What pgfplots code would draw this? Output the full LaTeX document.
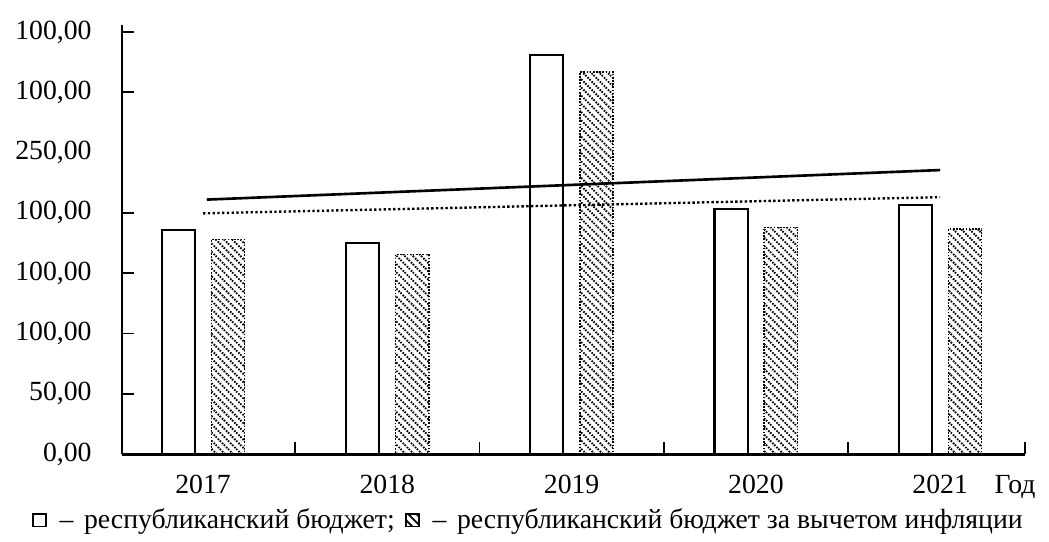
\documentclass[border=0pt]{standalone}
\usepackage{fontspec}
\setmainfont{Liberation Serif}
\usepackage{pgfplots}
\pgfplotsset{compat=1.18}
\usetikzlibrary{patterns.meta}

% рисунок: бюджет по годам, столбцы и линии тренда
\tikzset{
  hatchbar/.style={
    draw=black, line width=0.6pt, dash pattern=on 0.6pt off 0.6pt,
    pattern={Lines[angle=-45, distance=2.2pt, line width=0.7pt]}},
  whitebar/.style={draw=black, fill=white, line width=0.8pt},
}

\begin{document}
\begin{tikzpicture}
\begin{axis}[
    scale only axis,
    width=342pt, height=162.5pt,
    xmin=-0.44, xmax=4.46,
    ymin=0, ymax=355.7,
    axis x line*=bottom,
    axis y line*=left,
    axis line style={line width=1.1pt},
    xtick={0,1,2,3,4},
    xticklabels={2017,2018,2019,2020,2021},
    x tick style={draw=none},
    extra x ticks={0.5,1.5,2.5,3.5,4.46},
    extra x tick labels={},
    extra x tick style={x tick style={draw=black, line width=0.6pt}, major tick length=4.5pt, tick align=inside},
    ytick={0,50,100,150,200,250,300,350},
    yticklabels={{0,00},{50,00},{100,00},{100,00},{100,00},{250,00},{100,00},{100,00}},
    y tick style={draw=none},
    extra y ticks={0,50,100,150,200,300,350},
    extra y tick labels={},
    extra y tick style={y tick style={draw=black, line width=0.6pt}, major tick length=4.5pt, tick align=inside},
    tick label style={font=\fontsize{10.5pt}{12pt}\selectfont},
    /pgf/number format/assume math mode=true,
    yticklabel style={xshift=-8pt},
    xticklabel style={yshift=-4.5pt},
    xlabel={Год},
    xlabel style={at={(rel axis cs:1,0)}, anchor=north east, xshift=7.5pt, yshift=-4.5pt, font=\fontsize{10.5pt}{12pt}\selectfont},
    legend columns=2,
    legend style={draw=none, at={(0.452,-0.154)}, anchor=center,
      font=\fontsize{10.5pt}{12pt}\selectfont,
      /tikz/every even column/.append style={column sep=2pt}},
    legend image code/.code={\draw[#1, solid, line width=0.6pt] (0pt,-2.4pt) rectangle (4.8pt,2.4pt);},
    clip=false,
]
\addplot[ybar, whitebar, bar width=0.18, bar shift=-0.135] coordinates {
    (0,185.7) (1,175.0) (2,331.0) (3,203.0) (4,206.5)
};
\addlegendentry{\kern3pt–\kern4pt республиканский бюджет;}
\addplot[ybar, hatchbar, bar width=0.18, bar shift=0.135] coordinates {
    (0,178.0) (1,165.5) (2,317.0) (3,188.0) (4,186.5)
};
\addlegendentry{\kern3pt–\kern4pt республиканский бюджет за вычетом инфляции}
\addplot[black, line width=1pt, forget plot] coordinates {
    (0.02,211.0) (4.0,235.5)
};
\addplot[black, line width=0.9pt, dash pattern=on 0.9pt off 0.9pt, forget plot] coordinates {
    (0.0,199.6) (4.0,213.0)
};
\end{axis}
\pgfresetboundingbox
\path[use as bounding box] (-46.2pt,-33pt) rectangle (351.1pt,172pt);
\end{tikzpicture}
\end{document}
